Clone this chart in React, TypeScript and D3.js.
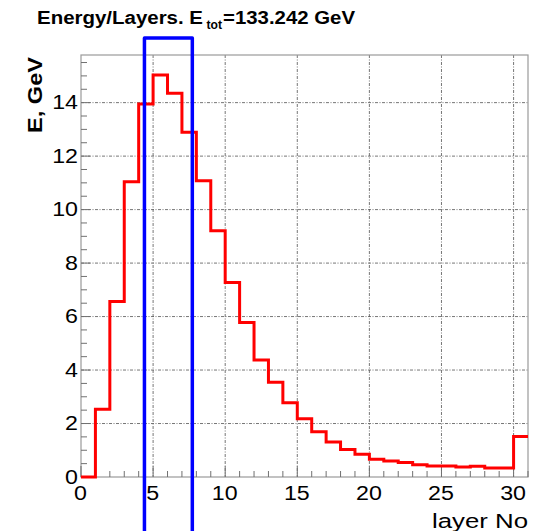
import React from "react";
import * as d3 from "d3";

// Energy deposited per calorimeter layer (GeV), one value per layer bin [n, n+1)
const layers = d3.range(0, 31);
const energy = [
  0.0, 2.53, 6.56, 11.04, 13.95, 15.03, 14.35, 12.89, 11.08, 9.21,
  7.27, 5.78, 4.38, 3.54, 2.78, 2.18, 1.69, 1.31, 1.03, 0.85,
  0.66, 0.6, 0.54, 0.46, 0.41, 0.41, 0.37, 0.4, 0.34, 0.34, 1.51,
];
const xMajorTicks = [0, 5, 10, 15, 20, 25, 30];
const yMajorTicks = [0, 2, 4, 6, 8, 10, 12, 14];
// Highlighted layer window (layer units, energy units)
const windowX = [4.4, 7.72];
const windowY = [-2.6, 16.42];

const W = 543;
const H = 531;
const frame = { left: 81, right: 528, top: 55, bottom: 477 };
const FONT = "'Liberation Sans', Arial, Helvetica, sans-serif";
const SX = 1.19; // horizontal text stretch

export default function App() {
  const yMax = d3.max(energy)! * 1.05;
  const x = d3.scaleLinear().domain([0, 31]).range([frame.left, frame.right]);
  const y = d3.scaleLinear().domain([0, yMax]).range([frame.bottom, frame.top]);

  const xMinor = d3.range(0, 32, 1);
  const yMinor = d3.range(0, yMax, 0.5);

  // Step outline of the histogram
  const pts: [number, number][] = [];
  layers.forEach((l, i) => {
    pts.push([x(l), y(energy[i])]);
    pts.push([x(l + 1), y(energy[i])]);
  });
  const stepPath = d3.line()(pts)!;

  const boxPath = d3.line()([
    [x(windowX[0]), y(windowY[0])],
    [x(windowX[0]), y(windowY[1])],
    [x(windowX[1]), y(windowY[1])],
    [x(windowX[1]), y(windowY[0])],
  ])!;

  const gridColor = "#555";
  const dash = "3,1.5,1,1.5";

  return (
    <svg
      width={W}
      height={H}
      style={{ position: "absolute", left: 0, top: 0, background: "#fff" }}
      fontFamily={FONT}
    >
      <rect x={0} y={0} width={W} height={H} fill="#fff" />

      {/* grid */}
      {yMajorTicks.filter((v) => v > 0).map((v) => (
        <line key={"gy" + v} x1={frame.left} x2={frame.right} y1={y(v)} y2={y(v)}
          stroke={gridColor} strokeWidth={1} strokeDasharray={dash} opacity={0.8} />
      ))}
      {xMajorTicks.filter((v) => v > 0).map((v) => (
        <line key={"gx" + v} x1={x(v)} x2={x(v)} y1={frame.top} y2={frame.bottom}
          stroke={gridColor} strokeWidth={1} strokeDasharray={dash} opacity={0.8} />
      ))}

      {/* frame */}
      <rect x={frame.left} y={frame.top} width={frame.right - frame.left}
        height={frame.bottom - frame.top} fill="none" stroke="#9a9a9a" strokeWidth={1.2} />

      {/* y ticks */}
      {yMinor.map((v) => {
        const major = v % 2 === 0;
        return (
          <line key={"ty" + v} x1={frame.left} x2={frame.left + (major ? 9 : 6)}
            y1={y(v)} y2={y(v)} stroke="#707070" strokeWidth={1} />
        );
      })}
      {/* x ticks */}
      {xMinor.map((v) => {
        const major = v % 5 === 0;
        return (
          <line key={"tx" + v} x1={x(v)} x2={x(v)} y1={frame.bottom}
            y2={frame.bottom - (major ? 11 : 6)} stroke="#707070" strokeWidth={1} />
        );
      })}

      {/* histogram */}
      <path d={stepPath} fill="none" stroke="#ff0000" strokeWidth={3} strokeLinejoin="miter" />

      {/* highlighted window */}
      <path d={boxPath} fill="none" stroke="#0000ff" strokeWidth={3.5} strokeLinejoin="round" />

      {/* y tick labels */}
      {yMajorTicks.map((v) => (
        <text key={"ly" + v} transform={`translate(${frame.left - 3},${y(v) + 6.5}) scale(${SX},1)`}
          textAnchor="end" fontSize={19.5} fill="#000">{v}</text>
      ))}
      {/* x tick labels */}
      {xMajorTicks.map((v) => (
        <text key={"lx" + v} transform={`translate(${x(v) - 0.5},${500}) scale(${SX},1)`}
          textAnchor="middle" fontSize={19.5} fill="#000">{v}</text>
      ))}

      {/* axis titles */}
      <text x={frame.right} y={528} textAnchor="end" fontSize={20.5} fill="#000"
        textLength={96} lengthAdjust="spacingAndGlyphs">layer No</text>
      <text transform={`translate(41.5,57) rotate(-90)`} textAnchor="end" fontSize={20}
        fontWeight="bold" fill="#000" textLength={76} lengthAdjust="spacingAndGlyphs">E, GeV</text>

      {/* title */}
      <text x={37} y={23.5} fontSize={18} fontWeight="bold" fill="#000"
        textLength={166} lengthAdjust="spacingAndGlyphs">Energy/Layers. E</text>
      <text x={206.5} y={29} fontSize={12.5} fontWeight="bold" fill="#000"
        textLength={15.5} lengthAdjust="spacingAndGlyphs">tot</text>
      <text x={223} y={23.5} fontSize={18} fontWeight="bold" fill="#000"
        textLength={132} lengthAdjust="spacingAndGlyphs">=133.242 GeV</text>
    </svg>
  );
}
